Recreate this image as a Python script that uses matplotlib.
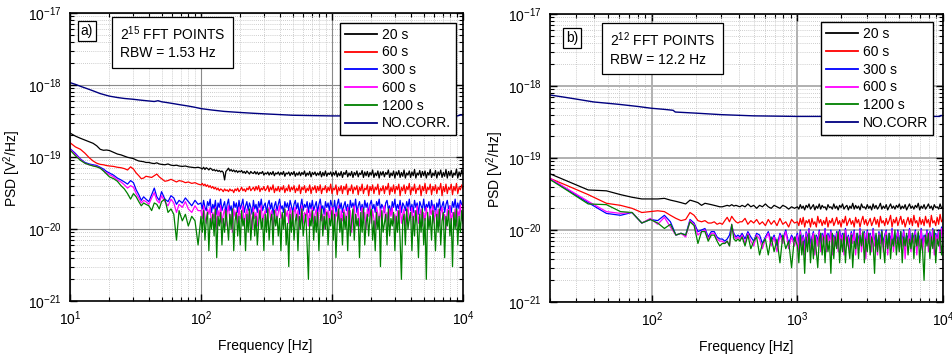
import numpy as np
import matplotlib
matplotlib.use('Agg')
import matplotlib.pyplot as plt
from matplotlib.ticker import LogLocator, NullFormatter

plt.rcParams['font.family'] = ['Liberation Sans', 'DejaVu Sans']
plt.rcParams['mathtext.fontset'] = 'custom'
plt.rcParams['mathtext.rm'] = 'Liberation Sans'
plt.rcParams['mathtext.it'] = 'Liberation Sans:italic'
plt.rcParams['mathtext.bf'] = 'Liberation Sans:bold'
plt.rcParams['mathtext.default'] = 'regular'

UNIT = 1e-21  # all PSD values below are in units of 1e-21 V^2/Hz

# ---------------- panel a) 2^15 FFT points ----------------
freq_lo_a = [10, 11, 12, 13, 14, 15, 16, 17, 18, 19, 20,
             21.5, 23, 24.5, 26, 27.5, 29, 30.5, 32, 33.5, 35, 36.5, 38,
             40, 42, 44, 46, 48, 50, 53, 56, 59, 62, 65, 68,
             72, 76, 80, 85, 90, 95]
freq_hi_a = [100, 102.3, 104.7, 107.2, 109.6, 112.2, 114.8, 117.5, 120.2, 123.0,
             125.9, 128.8, 131.8, 134.9, 138.0, 141.3, 144.5, 147.9, 151.4, 154.9,
             158.5, 162.2, 166.0, 169.8, 173.8, 177.8, 182.0, 186.2, 190.5, 195.0,
             199.5, 204.2, 208.9, 213.8, 218.8, 223.9, 229.1, 234.4, 239.9, 245.5,
             251.2, 257.0, 263.0, 269.2, 275.4, 281.8, 288.4, 295.1, 302.0, 309.0,
             316.2, 323.6, 331.1, 338.8, 346.7, 354.8, 363.1, 371.5, 380.2, 389.0,
             398.1, 407.4, 416.9, 426.6, 436.5, 446.7, 457.1, 467.7, 478.6, 489.8,
             501.2, 512.9, 524.8, 537.0, 549.5, 562.3, 575.4, 588.8, 602.6, 616.6,
             631.0, 645.7, 660.7, 676.1, 691.8, 707.9, 724.4, 741.3, 758.6, 776.2,
             794.3, 812.8, 831.8, 851.1, 871.0, 891.3, 912.0, 933.3, 955.0, 977.2,
             1000, 1023, 1047, 1072, 1096, 1122, 1148, 1175, 1202, 1230,
             1259, 1288, 1318, 1349, 1380, 1413, 1445, 1479, 1514, 1549,
             1585, 1622, 1660, 1698, 1738, 1778, 1820, 1862, 1905, 1950,
             1995, 2042, 2089, 2138, 2188, 2239, 2291, 2344, 2399, 2455,
             2512, 2570, 2630, 2692, 2754, 2818, 2884, 2951, 3020, 3090,
             3162, 3236, 3311, 3388, 3467, 3548, 3631, 3715, 3802, 3890,
             3981, 4074, 4169, 4266, 4365, 4467, 4571, 4677, 4786, 4898,
             5012, 5129, 5248, 5370, 5495, 5623, 5754, 5888, 6026, 6166,
             6310, 6457, 6607, 6761, 6918, 7079, 7244, 7413, 7586, 7762,
             7943, 8128, 8318, 8511, 8710, 8913, 9120, 9333, 9550, 9772,
             10000]
freq_a = freq_lo_a + freq_hi_a

psd_a_20s = [215, 195, 182, 172, 163, 155, 143, 128, 124, 125, 123,
             116, 110, 107, 103, 99, 97, 95, 91, 88, 87, 86, 84,
             84, 82, 81, 83, 80, 79, 78, 80, 77, 76, 77, 75,
             74, 75, 73, 72, 71, 72,
             70, 68, 72, 67, 71, 69, 66, 70, 68, 65,
             67, 64, 66, 63, 65, 62, 64, 61, 48, 63,
             66, 70, 64, 67, 63, 66, 62, 65, 61, 64,
             62, 65, 60, 63, 59, 64, 61, 58, 63, 60,
             59, 63, 58, 62, 57, 61, 59, 63, 56, 60,
             58, 62, 56, 61, 57, 63, 55, 60, 58, 62,
             56, 61, 57, 63, 54, 60, 58, 62, 55, 61,
             57, 63, 54, 60, 56, 62, 55, 61, 57, 64,
             54, 60, 56, 63, 53, 61, 57, 62, 55, 60,
             56, 63, 53, 61, 55, 64, 54, 60, 57, 62,
             54, 61, 56, 64, 53, 60, 55, 63, 52, 61,
             57, 65, 53, 60, 55, 63, 52, 61, 56, 64,
             53, 60, 57, 65, 52, 62, 55, 63, 53, 61,
             56, 66, 52, 60, 55, 64, 51, 62, 56, 63,
             53, 61, 57, 66, 52, 60, 55, 64, 51, 62,
             56, 65, 52, 61, 54, 66, 51, 60, 56, 64,
             52, 62, 55, 67, 51, 60, 56, 65, 52, 63,
             55, 64, 51, 61, 56, 67, 52, 60, 55, 65,
             51, 62, 56, 66, 52, 61, 54, 67, 51, 63,
             55, 65, 52, 60, 56, 68, 51, 62, 54, 66,
             58]

psd_a_60s = [158, 138, 128, 113, 98, 88, 82, 79, 78, 76, 75,
             74, 72, 71, 69, 66, 73, 68, 60, 55, 50, 51, 54,
             53, 52, 55, 58, 53, 50, 46, 47, 49, 47, 45, 47,
             46, 44, 45, 43, 44, 42,
             41, 43, 40, 42, 39, 41, 38, 40, 37, 39,
             36, 38, 35, 37, 34, 36, 35, 33, 36, 34,
             35, 33, 36, 34, 35, 32, 36, 34, 37, 33,
             35, 38, 34, 36, 33, 37, 35, 39, 34, 36,
             38, 34, 39, 35, 40, 33, 37, 35, 39, 34,
             36, 40, 33, 38, 35, 41, 32, 37, 34, 39,
             33, 38, 35, 40, 32, 37, 34, 41, 33, 38,
             35, 40, 32, 37, 34, 41, 31, 38, 35, 40,
             32, 37, 34, 41, 31, 38, 35, 40, 32, 39,
             34, 41, 31, 37, 35, 40, 32, 38, 34, 42,
             31, 37, 35, 41, 30, 38, 34, 40, 31, 39,
             35, 42, 30, 37, 34, 41, 31, 38, 35, 40,
             30, 38, 34, 42, 31, 37, 35, 41, 29, 39,
             34, 41, 31, 38, 35, 42, 30, 37, 34, 40,
             31, 39, 35, 43, 30, 38, 33, 41, 31, 39,
             35, 42, 29, 38, 34, 41, 31, 39, 35, 43,
             30, 38, 34, 42, 31, 37, 35, 41, 29, 39,
             34, 43, 31, 38, 35, 42, 30, 39, 34, 41,
             31, 38, 35, 43, 29, 39, 33, 42, 31, 38,
             35, 42, 30, 39, 34, 43, 31, 38, 35, 41,
             36]

psd_a_300s = [131, 112, 94, 84, 80, 78, 76, 72, 68, 63, 60,
              56, 51, 48, 45, 42, 47, 44, 35, 30, 25, 28, 26,
              24, 30, 37, 28, 25, 33, 26, 24, 29, 27, 22, 25,
              23, 27, 24, 21, 25, 22,
              23, 19, 25, 20, 18, 24, 21, 26, 17, 22,
              19, 25, 16, 23, 20, 26, 18, 21, 24, 17,
              22, 26, 18, 21, 15, 24, 20, 23, 17, 25,
              19, 22, 26, 17, 21, 24, 18, 23, 20, 16,
              25, 19, 22, 17, 24, 20, 26, 18, 21, 23,
              17, 22, 25, 19, 23, 16, 21, 24, 18, 22,
              26, 19, 21, 17, 24, 20, 23, 18, 25, 21,
              17, 22, 25, 19, 23, 16, 21, 26, 18, 22,
              20, 24, 17, 23, 19, 25, 18, 21, 24, 17,
              22, 26, 19, 21, 16, 24, 20, 23, 18, 25,
              21, 18, 25, 17, 22, 26, 19, 23, 17, 21,
              24, 18, 22, 16, 25, 20, 23, 19, 26, 17,
              21, 24, 18, 22, 17, 25, 20, 23, 16, 22,
              25, 19, 22, 17, 24, 21, 26, 18, 22, 20,
              17, 23, 25, 19, 21, 16, 24, 20, 26, 18,
              22, 19, 25, 17, 23, 21, 18, 24, 20, 26,
              18, 22, 17, 25, 20, 23, 16, 24, 21, 19,
              26, 18, 22, 20, 24, 17, 25, 19, 22, 16,
              23, 20, 26, 18, 21, 24, 17, 22, 25, 19,
              21, 17, 24, 20, 26, 18, 23, 19, 25, 22,
              21]

psd_a_600s = [128, 108, 92, 82, 78, 76, 74, 70, 65, 60, 57,
              53, 48, 45, 41, 37, 40, 38, 31, 27, 23, 25, 24,
              22, 27, 32, 25, 23, 29, 24, 21, 26, 23, 17, 22,
              20, 24, 19, 17, 21, 18,
              18, 14, 21, 15, 12, 19, 16, 20, 11, 17,
              14, 20, 10, 18, 15, 21, 12, 16, 19, 11,
              17, 21, 13, 16, 9, 19, 15, 18, 12, 20,
              14, 17, 21, 11, 16, 19, 13, 18, 15, 10,
              20, 14, 17, 11, 19, 15, 21, 12, 16, 18,
              11, 17, 20, 14, 18, 10, 16, 19, 13, 17,
              21, 14, 16, 11, 19, 15, 18, 12, 20, 16,
              11, 17, 20, 13, 18, 10, 16, 21, 12, 17,
              15, 19, 11, 18, 14, 20, 12, 16, 19, 11,
              17, 21, 13, 16, 10, 19, 15, 18, 12, 20,
              14, 20, 11, 17, 15, 21, 10, 18, 13, 19,
              16, 12, 20, 14, 18, 9, 17, 21, 12, 15,
              19, 11, 16, 20, 13, 17, 10, 19, 15, 21,
              12, 18, 14, 10, 20, 16, 13, 19, 11, 17,
              21, 13, 17, 11, 19, 15, 20, 12, 16, 10,
              18, 14, 21, 12, 16, 19, 11, 17, 20, 13,
              15, 20, 10, 18, 14, 21, 12, 16, 19, 11,
              17, 13, 20, 15, 11, 19, 16, 21, 12, 18,
              14, 19, 11, 17, 20, 13, 16, 10, 19, 15,
              21, 12, 17, 14, 19, 11, 18, 15, 22, 13,
              16]

psd_a_1200s = [125, 104, 90, 82, 78, 75, 73, 70, 64, 58, 53,
               50, 46, 40, 36, 31, 26, 31, 28, 24, 21, 23, 22,
               21, 18, 23, 22, 19, 24, 26, 17, 19, 16, 7, 18,
               13, 16, 11, 15, 13, 6,
               15, 9, 18, 7, 13, 17, 5, 14, 10, 16,
               8, 19, 4, 15, 11, 17, 6, 14, 9, 18,
               12, 7, 16, 10, 19, 5, 13, 17, 8, 15,
               6, 18, 11, 14, 5, 16, 9, 19, 7, 13,
               17, 8, 15, 6, 12, 18, 10, 14, 5, 16,
               9, 19, 7, 13, 16, 6, 18, 11, 15, 8,
               14, 5, 17, 10, 19, 6, 12, 3, 16, 9,
               18, 7, 13, 16, 5, 15, 10, 19, 8, 12,
               16, 6, 2, 14, 11, 18, 7, 15, 9, 17,
               5, 13, 19, 8, 15, 10, 17, 6, 14, 11,
               18, 7, 16, 4, 12, 19, 9, 14, 6, 17,
               10, 15, 5, 18, 8, 13, 19, 7, 16, 11,
               14, 4, 17, 9, 19, 6, 12, 16, 8, 15,
               19, 7, 13, 5, 17, 10, 15, 3, 18, 9,
               12, 16, 6, 19, 8, 14, 11, 17, 5, 15,
               9, 18, 7, 2, 13, 16, 6, 19, 10, 14,
               17, 5, 15, 8, 18, 11, 4, 16, 9, 19,
               6, 14, 2, 17, 10, 15, 7, 18, 12, 5,
               16, 9, 19, 6, 13, 17, 4, 15, 11, 18,
               8, 14, 3, 17, 10, 19, 6, 15, 9, 18,
               12]

freq_nc_a = [10, 11, 12, 13.5, 15, 17, 20, 23, 26, 30, 35, 40, 44, 47, 50,
             55, 62, 70, 80, 90, 100, 120, 150, 200, 250, 300, 400, 500,
             700, 1000, 1500, 2000, 3000, 5000, 7000, 9000, 9700, 10000]
psd_a_nocorr = [1080, 1020, 960, 890, 830, 760, 700, 670, 650, 635, 615, 600,
                590, 605, 585, 570, 550, 530, 510, 490, 470, 450, 430, 415,
                405, 398, 388, 380, 376, 372, 372, 370, 371, 370, 372, 371,
                385, 375]

# ---------------- panel b) 2^12 FFT points ----------------
freq_lo_b = [12.2, 24.4, 36.6, 48.8, 61.0, 73.2, 85.4, 97.7, 109.9, 122.1,
             134.3, 146.5, 158.7, 170.9, 183.1, 195.3, 207.5, 219.7, 231.9,
             244.1, 256.3, 268.6, 280.8, 293.0, 305.2, 317.4, 329.6, 341.8,
             354.0, 366.2, 378.4, 390.6, 402.8]
freq_mid_b = [417, 437, 457, 479, 501, 525, 550, 575, 603,
              631, 661, 692, 724, 759, 794, 832, 871, 912, 955]
freq_b = freq_lo_b + freq_mid_b + freq_hi_a[100:]

psd_b_20s = [92, 51, 36, 35, 31, 28.5, 27, 27, 27, 27.5,
             26, 25, 24, 23, 26, 25, 24, 22, 23.5, 23,
             22.5, 22, 21.5, 21, 21, 21.5, 22, 21.5, 22.5, 21.5,
             22, 21.5, 21,
             22, 21, 23, 21, 22, 20, 22, 21, 23,
             21, 20, 22, 21, 20, 22, 21, 19.5, 21, 20,
             21, 19.5, 22.5, 20, 21.5, 19, 22, 20.5, 23, 19.5,
             21, 22.5, 19, 21.5, 20, 23, 19.5, 22, 20.5, 21,
             19, 22.5, 20.5, 21, 19.5, 23, 20, 21.5, 19, 22,
             20.5, 23, 19.5, 21, 22, 19, 21.5, 20, 23.5, 19.5,
             22, 20, 21.5, 19, 23, 20.5, 21, 19.5, 22.5, 20,
             21.5, 19, 23, 20, 22, 19.5, 21, 23.5, 19.5, 21.5,
             20, 22.5, 19, 21, 23, 20, 21.5, 19.5, 22, 20.5,
             23, 19.5, 21.5, 20, 22.5, 19, 21, 23, 20, 21.5,
             19.5, 22, 20.5, 23.5, 19, 21.5, 20, 22.5, 19.5, 21,
             23, 20, 21.5, 19, 22.5, 20.5, 21, 19.5, 23, 20,
             21]

psd_b_60s = [79, 44, 31, 23.5, 22, 20, 17.5, 18, 18.5, 18,
             16, 14.5, 13.5, 14, 17.5, 16, 13.5, 13, 13.5, 12.5,
             12.5, 13, 12, 12.5, 12, 13.5, 15, 13, 15.5, 14,
             13, 12.5, 13,
             13, 14.5, 12, 13.5, 12.5, 14, 12, 13, 11.5,
             14, 12, 13.5, 11.5, 14.5, 12, 13, 11, 14, 12.5,
             13, 11.5, 14.5, 12, 15, 11, 13.5, 12.5, 14, 11,
             14.5, 12, 13, 11, 15.5, 12.5, 14, 11.5, 13.5, 12,
             15, 11, 13.5, 12.5, 14.5, 11.5, 13, 15, 12, 13.5,
             11, 14, 12.5, 15.5, 11.5, 13, 14.5, 12, 13.5, 11,
             15, 12.5, 14, 11, 13.5, 15.5, 12, 14, 11.5, 13,
             14.5, 11.5, 13, 15, 12, 14, 11, 15.5, 12.5, 13.5,
             11.5, 14.5, 12, 13.5, 16, 11, 14, 12.5, 15, 11.5,
             13.5, 15.5, 12, 14, 11, 13, 15, 12, 14.5, 11.5,
             16, 12.5, 13.5, 11, 15, 12, 14, 11.5, 15.5, 12.5,
             14, 11, 16, 12.5, 13.5, 11.5, 15, 12, 16.5, 13,
             14]

psd_b_300s = [97, 40, 24, 17, 16, 17.5, 12.5, 14, 13.5, 16,
              13, 8.5, 9, 8.5, 14, 12.5, 9.5, 10, 10.5, 8,
              9.5, 9.5, 8, 7.5, 7.5, 7, 7.5, 8.5, 11.5, 9,
              8, 8.5, 8,
              9, 7.5, 9.5, 8, 7, 9, 8.5, 6.5, 8,
              9.5, 7, 8.5, 6, 9, 7.5, 10, 6.5, 8.5, 7,
              9, 6.5, 10, 7, 8.5, 6, 9.5, 7.5, 10.5, 6.5,
              8, 9.5, 6, 8.5, 7, 10, 6.5, 9, 7.5, 10.5,
              6.5, 9, 7.5, 10, 6, 8.5, 7, 9.5, 6.5, 10,
              7.5, 9, 6, 10.5, 7, 8.5, 6.5, 9.5, 7.5, 10,
              6, 9, 7, 10.5, 6.5, 8, 9.5, 6, 10, 7.5,
              9, 6.5, 10.5, 7, 8.5, 6, 9.5, 7.5, 10, 6.5,
              8.5, 10, 6, 9, 7, 10.5, 6.5, 8.5, 7.5, 10,
              6.5, 9.5, 7, 10, 6, 8.5, 7.5, 10.5, 6.5, 9,
              7.5, 10, 6, 9, 7, 10.5, 6.5, 8.5, 7.5, 10,
              6.5, 9.5, 7, 10.5, 6, 9, 7.5, 10, 6.5, 11,
              9]

psd_b_600s = [95, 41, 25, 18, 17, 17.5, 12.5, 14.5, 12, 15,
              11, 8.5, 9, 8, 13.5, 12, 8.5, 9.5, 10, 7.5,
              9, 9, 7.5, 7, 7, 6.5, 7, 6, 12, 8.5,
              7.5, 8, 7.5,
              8.5, 6.5, 9, 7, 6, 8.5, 7.5, 5.5, 7.5,
              9, 6, 8, 5, 8.5, 6.5, 9.5, 5.5, 8, 6,
              8.5, 5, 9.5, 6, 8, 4.5, 9, 6.5, 10, 5,
              7.5, 9, 4.5, 8, 6, 9.5, 5, 8.5, 6.5, 10,
              5, 8.5, 6.5, 9.5, 4.5, 8, 6, 9, 5, 9.5,
              6.5, 8.5, 4.5, 10, 6, 8, 5, 9, 6.5, 9.5,
              4.5, 8.5, 6, 10, 5, 7.5, 9, 4, 9.5, 6.5,
              8.5, 5, 10, 6, 8, 4.5, 9, 6.5, 9.5, 5,
              8, 9.5, 4.5, 8.5, 6, 10, 5, 8, 6.5, 9.5,
              5, 9, 6, 9.5, 4, 8, 6.5, 10, 5, 8.5,
              6.5, 9.5, 4.5, 8.5, 6, 10, 5, 8, 6.5, 9.5,
              5, 9, 6, 10, 4.5, 8.5, 6.5, 9.5, 5, 10.5,
              8.5]

psd_b_1200s = [94, 39, 23, 22.5, 18, 17.5, 12.5, 14, 12.5, 10.5,
               12, 8.5, 9, 8.5, 13, 11.5, 6.5, 9.5, 9.5, 7,
               8.5, 8.5, 7, 6, 6.5, 6.5, 7, 6, 12, 7.5,
               7, 7.5, 7,
               8, 6, 8.5, 5.5, 7, 8, 4.5, 6.5, 7.5,
               4.5, 8, 5, 7.5, 3.5, 8.5, 5.5, 7, 3, 8,
               6, 3.5, 8.5, 4.5, 7, 2.5, 8, 5, 9, 3.5,
               7.5, 4, 8.5, 5, 3, 7.5, 9, 4.5, 8, 3.5,
               8.5, 5, 7, 2.5, 9, 4, 8, 5.5, 9.5, 3.5,
               7.5, 5, 9, 3.5, 8, 6, 4, 8.5, 3, 7,
               5.5, 9, 4, 8.5, 6, 9.5, 3.5, 7.5, 5, 9,
               4.5, 8, 6.5, 2.5, 9, 5, 8.5, 4, 9.5, 6,
               3.5, 8.5, 5.5, 9, 4, 7.5, 6, 10, 4.5, 8,
               5, 9.5, 3.5, 8, 6, 9, 4.5, 7.5, 5.5, 9,
               4, 8.5, 6, 9.5, 3.5, 7.5, 5, 2, 8.5, 6,
               9, 4, 8, 5.5, 10, 3.5, 7.5, 6, 9.5, 4.5,
               7.5]

freq_nc_b = [12.2, 20, 25, 30, 40, 50, 60, 80, 100, 120, 140, 145, 200, 300,
             500, 1000, 2000, 5000, 9500, 9700, 10000]
psd_b_nocorr = [880, 750, 700, 660, 600, 575, 555, 520, 490, 475, 460, 435,
                420, 400, 385, 378, 378, 377, 378, 390, 382]

labels_a = ['20 s', '60 s', '300 s', '600 s', '1200 s', 'NO.CORR.']
labels_b = ['20 s', '60 s', '300 s', '600 s', '1200 s', 'NO.CORR']
colors = ['black', '#ff0000', '#0000ff', '#ff00ff', '#008000', '#000080']

for arr in (psd_a_20s, psd_a_60s, psd_a_300s, psd_a_600s, psd_a_1200s):
    assert len(arr) == len(freq_a), len(arr)
for arr in (psd_b_20s, psd_b_60s, psd_b_300s, psd_b_600s, psd_b_1200s):
    assert len(arr) == len(freq_b), len(arr)
assert len(freq_nc_a) == len(psd_a_nocorr)
assert len(freq_nc_b) == len(psd_b_nocorr)

fig = plt.figure(figsize=(9.52, 3.61), dpi=100)
ax1 = fig.add_axes([70 / 952, 1 - 301 / 361, 393 / 952, 288 / 361])
ax2 = fig.add_axes([550 / 952, 1 - 302 / 361, 393 / 952, 288 / 361])


def style(ax, xlim, gcol, glw):
    ax.set_xscale('log')
    ax.set_yscale('log')
    ax.set_xlim(*xlim)
    ax.set_ylim(1e-21, 1e-17)
    for axis in (ax.xaxis, ax.yaxis):
        axis.set_major_locator(LogLocator(base=10, numticks=12))
        axis.set_minor_locator(LogLocator(base=10, subs=np.arange(2, 10), numticks=60))
        axis.set_minor_formatter(NullFormatter())
    ax.grid(True, which='major', color=gcol, lw=glw, ls='-')
    ax.grid(True, which='minor', color='#bdbdbd', lw=0.6, ls=(0, (1, 1.5)))
    ax.set_axisbelow(True)
    ax.tick_params(which='both', direction='in', top=True, right=True, labelsize=10)
    ax.tick_params(which='major', length=5, width=1, pad=6)
    ax.tick_params(which='minor', length=3, width=0.8)
    for s in ax.spines.values():
        s.set_linewidth(1.2)
        s.set_zorder(5)


def draw(ax, freq, series, fnc, nc, labels, lw):
    handles = []
    h_nc, = ax.plot(fnc, np.array(nc) * UNIT, color=colors[5], lw=1.0, label=labels[5])
    for vals, col, lab in zip(series, colors[:5], labels[:5]):
        h, = ax.plot(freq, np.array(vals) * UNIT, color=col, lw=lw, label=lab)
        handles.append(h)
    handles.append(h_nc)
    return handles


style(ax1, (10, 1e4), '#8a8a8a', 0.8)
style(ax2, (20, 1e4), '#b0b0b0', 1.4)

h1 = draw(ax1, freq_a, [psd_a_20s, psd_a_60s, psd_a_300s, psd_a_600s, psd_a_1200s],
          freq_nc_a, psd_a_nocorr, labels_a, 0.9)
h2 = draw(ax2, freq_b, [psd_b_20s, psd_b_60s, psd_b_300s, psd_b_600s, psd_b_1200s],
          freq_nc_b, psd_b_nocorr, labels_b, 0.9)

legkw = dict(loc='upper right', borderaxespad=0, fontsize=10, frameon=True,
             fancybox=False, edgecolor='black', framealpha=1, handlelength=2.3,
             handletextpad=0.35, labelspacing=0.27, borderpad=0.35)
lg1 = ax1.legend(handles=h1, bbox_to_anchor=(0.981, 0.966), **legkw)
lg2 = ax2.legend(handles=h2, bbox_to_anchor=(0.975, 0.971), **legkw)
for lg in (lg1, lg2):
    lg.get_frame().set_linewidth(1.0)
    lg.set_zorder(10)
    for ln in lg.get_lines():
        ln.set_linewidth(1.3)

boxkw = dict(fc='white', ec='black', lw=0.9)
ax1.text(0.043, 0.938, 'a)', transform=ax1.transAxes, ha='center', va='center',
         fontsize=10, bbox=dict(boxstyle='square,pad=0.2', **boxkw))
ax1.text(0.127, 0.8976, '2$^{15}$ FFT POINTS\nRBW = 1.53 Hz', transform=ax1.transAxes,
         ha='left', va='center', fontsize=10, linespacing=1.3,
         bbox=dict(boxstyle='square,pad=0.55', **boxkw))
ax2.text(0.0567, 0.917, 'b)', transform=ax2.transAxes, ha='center', va='center',
         fontsize=10, bbox=dict(boxstyle='square,pad=0.2', **boxkw))
ax2.text(0.153, 0.879, '2$^{12}$ FFT POINTS\nRBW = 12.2 Hz', transform=ax2.transAxes,
         ha='left', va='center', fontsize=10, linespacing=1.3,
         bbox=dict(boxstyle='square,pad=0.55', **boxkw))

for ax, ylx, xlx in ((ax1, -0.119, 0.496), (ax2, -0.112, 0.499)):
    ax.set_ylabel('PSD [V$^2$/Hz]', fontsize=10)
    ax.yaxis.set_label_coords(ylx, 0.46)
    ax.set_xlabel('Frequency [Hz]', fontsize=10)
    ax.xaxis.set_label_coords(xlx, -0.133)

fig.savefig('out.png', dpi=100)
